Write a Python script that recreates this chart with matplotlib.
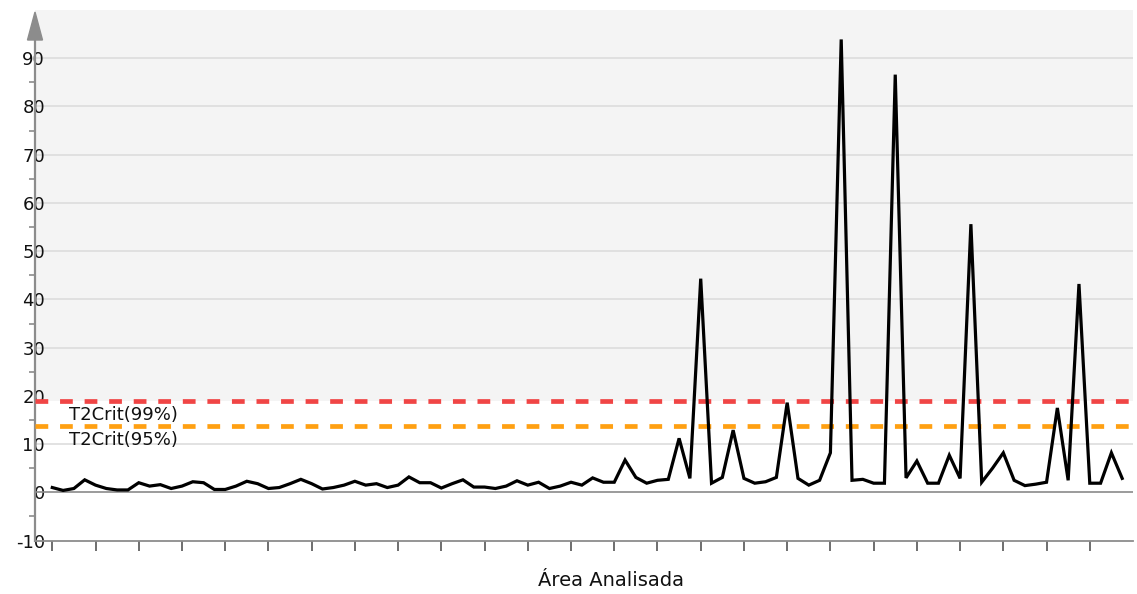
import matplotlib
matplotlib.use("Agg")
import matplotlib.pyplot as plt
from matplotlib.patches import Polygon
from matplotlib.ticker import MultipleLocator

plt.rcParams['font.family'] = ['DejaVu Sans']

# ---- data ----
t2_values = [
    1.0, 0.4, 0.8, 2.6, 1.5, 0.8, 0.5, 0.5, 2.0, 1.3,
    1.6, 0.8, 1.3, 2.2, 2.0, 0.6, 0.6, 1.3, 2.3, 1.8,
    0.8, 1.0, 1.8, 2.7, 1.8, 0.7, 1.0, 1.5, 2.3, 1.5,
    1.8, 1.0, 1.5, 3.2, 2.0, 2.0, 0.9, 1.8, 2.6, 1.1,
    1.1, 0.8, 1.3, 2.4, 1.5, 2.1, 0.8, 1.3, 2.1, 1.5,
    3.0, 2.1, 2.1, 6.7, 3.1, 1.9, 2.5, 2.7, 11.2, 2.9,
    44.3, 1.9, 3.1, 12.9, 2.9, 1.9, 2.2, 3.1, 18.6, 2.9,
    1.5, 2.5, 8.2, 93.9, 2.5, 2.7, 1.9, 1.9, 86.6, 3.0,
    6.5, 1.9, 1.9, 7.7, 2.9, 55.6, 2.1, 5.0, 8.2, 2.5,
    1.4, 1.7, 2.1, 17.5, 2.5, 43.2, 1.9, 1.9, 8.2, 2.9,
]
sample_index = list(range(len(t2_values)))
t2crit_99 = 19.0
t2crit_95 = 13.7
label_99 = "T2Crit(99%)"
label_95 = "T2Crit(95%)"
x_title = "Área Analisada"
y_ticks = list(range(-10, 100, 10))
x_ticks = list(range(0, 100, 4))

W, H = 1137, 594
fig = plt.figure(figsize=(W / 100, H / 100), dpi=100)
left, right, top, bottom = 35, 1133, 10, 540.6
ax = fig.add_axes([left / W, (H - bottom) / H, (right - left) / W, (bottom - top) / H])
ax.set_xlim(-1.6, 100)
ax.set_ylim(-10, 100)
ax.set_facecolor('white')

# gray band above the 99% limit
ax.axhspan(t2crit_99, 100, color='#f4f4f4', zorder=0, lw=0)

# grid lines
for v in y_ticks:
    if v in (-10, 0, 20):
        continue
    ax.axhline(v, color='#dadada', lw=1.1, zorder=1)
ax.axhline(0, color='#8a8a8a', lw=1.2, zorder=2)

# limit lines
ax.axhline(t2crit_99, color='#f04545', lw=3.4, dashes=(2.7, 2.5), zorder=3)
ax.axhline(t2crit_95, color='#ffa012', lw=3.4, dashes=(2.7, 2.5), zorder=3)

ax.text(1.5, 15.0, label_99, va='baseline', ha='left', fontsize=13, color='#111111', zorder=5)
ax.text(1.5, 9.8, label_95, va='baseline', ha='left', fontsize=13, color='#111111', zorder=5)

# data line
ax.plot(sample_index, t2_values, color='black', lw=2.3, zorder=4, solid_joinstyle='miter')

# spines
for s in ('top', 'right'):
    ax.spines[s].set_visible(False)
ax.spines['left'].set_color('#8c8c8c')
ax.spines['left'].set_linewidth(1.6)
ax.spines['bottom'].set_color('#8c8c8c')
ax.spines['bottom'].set_linewidth(1.3)
ax.spines['left'].set_bounds(-10, 96)

# y-axis arrow
ax_h = bottom - top
ax_w = right - left
tip_y = (bottom - 12) / ax_h
base_y = (bottom - 40) / ax_h
hw = 7.5 / ax_w
arrow = Polygon([[-hw, base_y], [hw, base_y], [0, tip_y]], closed=True,
                transform=ax.transAxes, clip_on=False, color='#8c8c8c', zorder=6)
ax.add_patch(arrow)

# ticks
ax.set_yticks(y_ticks)
ax.set_yticklabels([str(v) for v in y_ticks])
ax.yaxis.set_minor_locator(MultipleLocator(10, offset=5))
ax.tick_params(axis='y', which='major', length=0, pad=-7.2, labelsize=13, labelcolor='#111111')
ax.tick_params(axis='y', which='minor', length=4.5, width=1.2, color='#8c8c8c', direction='out')
ax.set_xticks(x_ticks)
ax.set_xticklabels([])
ax.tick_params(axis='x', which='major', length=7.5, width=1.2, color='#555555', direction='out')

fig.text(611 / W, 1 - 581 / H, x_title, ha='center', va='center', fontsize=14, color='#111111')

fig.savefig('out.png', dpi=100)
